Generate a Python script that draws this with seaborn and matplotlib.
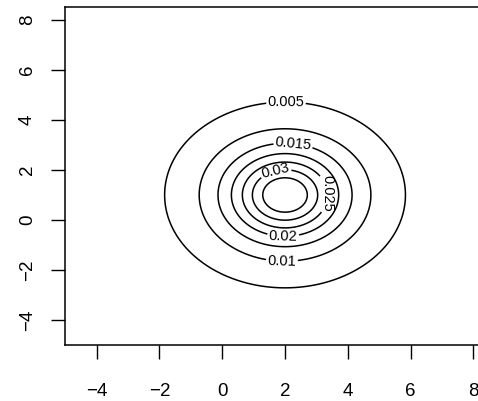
import numpy as np
import matplotlib
matplotlib.use("Agg")
import matplotlib.pyplot as plt
import seaborn as sns

# ---- data ----
center = [2.0, 1.0]          # peak location (x, y)
scale = [2.2, 2.13]          # spread in x and y
peak = 0.0406                # density at the centre
tail_power = 1.5             # heavy-tailed (bivariate t, 1 d.f.) profile
levels = [0.005, 0.01, 0.015, 0.02, 0.025, 0.03, 0.035]
label_levels = [0.005, 0.01, 0.015, 0.02, 0.025, 0.03]
label_text = {0.005: "0.005", 0.01: "0.01", 0.015: "0.015", 0.02: "0.02",
              0.025: "0.025", 0.03: "0.03"}
label_pos = [(2.03, 4.7), (1.9, -1.7), (2.25, 2.92), (1.94, -0.67), (3.4, 1.05), (1.7, 1.95)]
x_ticks = [-4, -2, 0, 2, 4, 6, 8]
y_ticks = [-4, -2, 0, 2, 4, 6, 8]
grid_x = np.linspace(-4.5, 8.0, 301)
grid_y = np.linspace(-4.5, 8.0, 301)

sns.set_theme(style="white")
plt.rcParams['font.family'] = ['Liberation Sans', 'DejaVu Sans']

W, H = 478, 401
fig = plt.figure(figsize=(W / 100, H / 100), dpi=100)
left, right, top, bottom = 65, 490, 6.7, 345
ax = fig.add_axes([left / W, 1 - bottom / H, (right - left) / W, (bottom - top) / H])

X, Y = np.meshgrid(grid_x, grid_y)
Q = ((X - center[0]) / scale[0]) ** 2 + ((Y - center[1]) / scale[1]) ** 2
Z = peak * (1 + Q) ** (-tail_power)

cs = ax.contour(X, Y, Z, levels=levels, colors="black", linewidths=1.1)
texts = ax.clabel(cs, levels=label_levels, inline=True, inline_spacing=3, fontsize=10.5,
                  fmt=label_text, manual=label_pos)
for t in texts:
    if t.get_text() == "0.025":
        t.set_rotation(-90)

ax.set_xlim(-5.01, 8.53)
ax.set_ylim(-5.0, 8.53)
ax.set_xticks(x_ticks)
ax.set_yticks(y_ticks)
ax.set_xticklabels([str(t).replace('-', '\u2212') for t in x_ticks])
ax.set_yticklabels([str(t).replace('-', '\u2212') for t in y_ticks], rotation=90, va='center')
ax.tick_params(axis='both', direction='out', length=10, width=1, color='black',
               labelsize=13.5, labelcolor='black', bottom=True, left=True)
ax.tick_params(axis='x', pad=17)
ax.tick_params(axis='y', pad=11)
for s in ax.spines.values():
    s.set_color('black')
    s.set_linewidth(1.1)
ax.grid(False)

fig.savefig("out.png", dpi=100)
